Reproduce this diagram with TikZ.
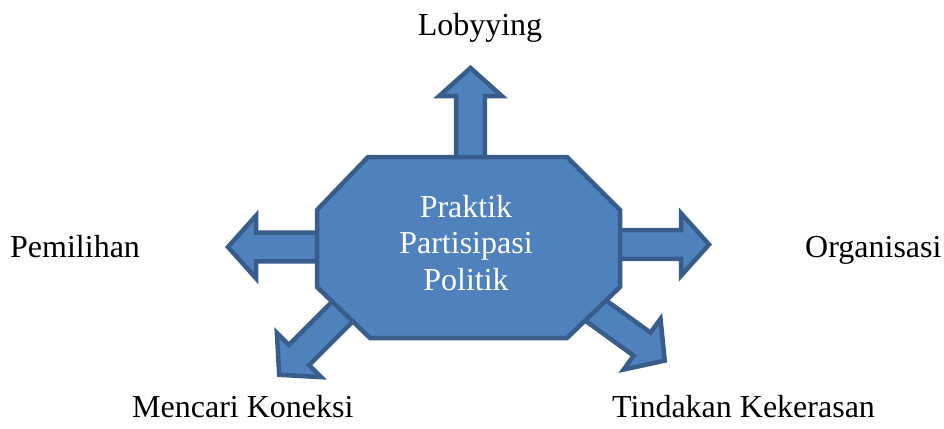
\documentclass[tikz,border=0pt]{standalone}
\usepackage{fontspec}
\setmainfont{Liberation Serif}
\definecolor{ofill}{HTML}{4F81BD}
\definecolor{oline}{HTML}{385D8A}
\tikzset{
  shapestyle/.style={fill=ofill, draw=oline, line width=4.5pt, line join=miter},
  lbl/.style={inner sep=0pt, font=\fontsize{32}{36.5}\selectfont},
}
\newcommand\blkarrow[3]{%
  \begin{scope}[shift={#1}, rotate=#2]
    \filldraw[shapestyle] (0,-14.3) -- ({#3-31},-14.3) -- ({#3-31},-31.3) -- ({#3-3},0)
      -- ({#3-31},31.3) -- ({#3-31},14.3) -- (0,14.3) -- cycle;
  \end{scope}}
\begin{document}
\begin{tikzpicture}[x=1pt,y=-1pt]
\useasboundingbox (0,0) rectangle (944,428);
% block arrows
\blkarrow{(470.5,200)}{90}{135}
\blkarrow{(400,247)}{180}{175}
\blkarrow{(540,244.5)}{0}{172}
\blkarrow{(369,285)}{225}{130}
\blkarrow{(562,286)}{-36}{130}
% octagon
\filldraw[shapestyle] (368,157) -- (567,157) -- (620,210) -- (620,287) -- (567,338)
  -- (370,338) -- (317,287) -- (317,210) -- cycle;
\node[lbl, text=white, align=center] (centre) at (466,243) {Praktik\\Partisipasi\\Politik};
% labels
\node[lbl, anchor=base] (lob) at (480,36) {Lobyying};
\node[lbl, anchor=base west] (pem) at (10,257) {Pemilihan};
\node[lbl, anchor=base west] (org) at (805,257) {Organisasi};
\node[lbl, anchor=base west] (men) at (132,417) {Mencari Koneksi};
\node[lbl, anchor=base west] (tin) at (612,417) {Tindakan Kekerasan};
\end{tikzpicture}
\end{document}
